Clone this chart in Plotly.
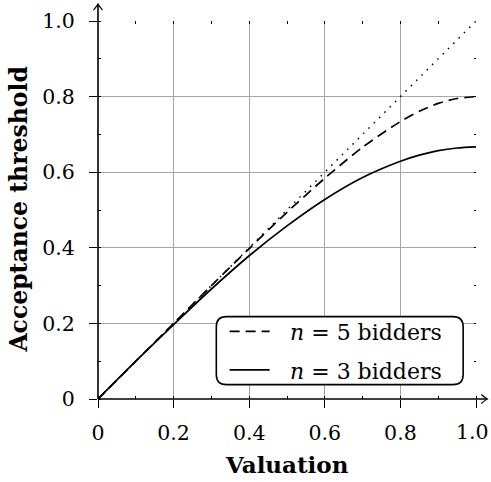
import plotly.graph_objects as go

# Acceptance threshold as a function of valuation
valuation = [0.0, 0.1, 0.2, 0.3, 0.4, 0.5, 0.6, 0.7, 0.8, 0.85, 0.9, 0.95, 1.0]
threshold_n5 = [0.0, 0.1, 0.2, 0.3, 0.398, 0.494, 0.584, 0.666, 0.734, 0.761, 0.782, 0.795, 0.8]
threshold_n3 = [0.0, 0.1, 0.197, 0.291, 0.379, 0.458, 0.528, 0.586, 0.629, 0.645, 0.657, 0.664, 0.667]
diag = [0.0, 1.0]

series_names = ["\u2002\u2009<i>n</i> = 5 bidders", "\u2002\u2009<i>n</i> = 3 bidders"]
tick_vals = [0, 0.2, 0.4, 0.6, 0.8, 1.0]
tick_text = ["0", "0.2", "0.4", "0.6", "0.8", "1.0"]
x_title = "Valuation"
y_title = "Acceptance threshold"

FONT = "DejaVu Serif"
TICK_SIZE = 20.5

fig = go.Figure()
fig.add_trace(go.Scatter(x=diag, y=diag, mode="lines", showlegend=False,
                         line=dict(color="black", width=1.5, dash="1.5px,6px")))
fig.add_trace(go.Scatter(x=valuation, y=threshold_n5, mode="lines", name=series_names[0],
                         legendgroup="a",
                         line=dict(color="black", width=1.7, dash="10px,6px",
                                   shape="spline", smoothing=0.8)))
fig.add_trace(go.Scatter(x=valuation, y=threshold_n3, mode="lines", name=series_names[1],
                         legendgroup="b",
                         line=dict(color="black", width=1.7, shape="spline", smoothing=0.8)))

grid = "#a6a6a6"
common = dict(range=[0, 1], showgrid=True, gridcolor=grid, gridwidth=1,
              zeroline=False, showline=False, automargin=False,
              ticks="outside", ticklen=8, tickwidth=1.2, tickcolor="black",
              tickvals=tick_vals,
              minor=dict(dtick=0.1, ticks="inside", ticklen=3, tickcolor="black",
                         showgrid=False),
              tickfont=dict(family=FONT, size=TICK_SIZE, color="black"))

# the last x label sits at the page edge, so it is placed as an annotation
x_labels = tick_text[:-1] + [""]

fig.update_layout(
    width=491, height=482,
    margin=dict(l=98, r=15, t=21, b=82.5),
    font=dict(family=FONT, color="black"),
    plot_bgcolor="white", paper_bgcolor="white",
    xaxis=dict(**common, ticktext=x_labels, ticklabelstandoff=7),
    yaxis=dict(**common, ticktext=tick_text, ticklabelstandoff=10),
    xaxis2=dict(overlaying="x", side="top", range=[0, 1], showgrid=False,
                zeroline=False, showticklabels=False, ticks="inside",
                ticklen=2.5, dtick=0.1, tickcolor="black", automargin=False),
    yaxis2=dict(overlaying="y", side="right", range=[0, 1], showgrid=False,
                zeroline=False, showticklabels=False, ticks="inside",
                ticklen=2.5, dtick=0.1, tickcolor="black", automargin=False),
    legend=dict(x=0.335, y=0.234, xanchor="left", yanchor="top",
                bgcolor="rgba(0,0,0,0)", borderwidth=0, itemwidth=40,
                tracegroupgap=7,
                font=dict(family=FONT, size=22, color="black")),
    showlegend=True,
)

fig.add_annotation(text=tick_text[-1], xref="x", yref="paper",
                   x=tick_vals[-1], y=0, yshift=-33, xshift=-3.5,
                   xanchor="center", yanchor="middle", showarrow=False,
                   borderpad=0, font=dict(family=FONT, size=TICK_SIZE, color="black"))

# axis titles
fig.add_annotation(text=f"<b>{x_title}</b>", xref="paper", yref="paper",
                   x=0.5, y=-0.172, xanchor="center", yanchor="middle", showarrow=False,
                   font=dict(family=FONT, size=23, color="black"))
fig.add_annotation(text=f"<b>{y_title}</b>", xref="paper", yref="paper",
                   x=-0.21, y=0.5, xanchor="center", yanchor="middle", showarrow=False,
                   textangle=-90, font=dict(family=FONT, size=23.5, color="black"))

# invisible trace so the mirrored tick axes are drawn
fig.add_trace(go.Scatter(x=[0], y=[0], xaxis="x2", yaxis="y2", mode="markers",
                         marker=dict(opacity=0), showlegend=False, hoverinfo="skip"))

# rounded legend frame
x0, x1, y0, y1 = 0.313, 0.966, 0.038, 0.218
rx, ry = 0.027, 0.027
path = (f"M {x0+rx},{y0} L {x1-rx},{y0} Q {x1},{y0} {x1},{y0+ry} "
        f"L {x1},{y1-ry} Q {x1},{y1} {x1-rx},{y1} L {x0+rx},{y1} "
        f"Q {x0},{y1} {x0},{y1-ry} L {x0},{y0+ry} Q {x0},{y0} {x0+rx},{y0} Z")
fig.add_shape(type="path", path=path, xref="paper", yref="paper",
              fillcolor="white", line=dict(color="black", width=1.6), layer="above")

# axis lines with open arrow heads
ax_len_x, ax_len_y = 1.03, 1.045
fig.add_shape(type="line", xref="paper", yref="paper", x0=0, y0=0, x1=ax_len_x, y1=0,
              line=dict(color="black", width=1.6), layer="above")
fig.add_shape(type="line", xref="paper", yref="paper", x0=0, y0=0, x1=0, y1=ax_len_y,
              line=dict(color="black", width=1.6), layer="above")
hx, hy = 0.016, 0.012
fig.add_shape(type="path", xref="paper", yref="paper",
              path=f"M {ax_len_x-hx},{hy} Q {ax_len_x-hx*0.3},{hy*0.2} {ax_len_x},0 "
                   f"Q {ax_len_x-hx*0.3},{-hy*0.2} {ax_len_x-hx},{-hy}",
              line=dict(color="black", width=1.2), layer="above")
fig.add_shape(type="path", xref="paper", yref="paper",
              path=f"M {-hy},{ax_len_y-hx} Q {-hy*0.2},{ax_len_y-hx*0.3} 0,{ax_len_y} "
                   f"Q {hy*0.2},{ax_len_y-hx*0.3} {hy},{ax_len_y-hx}",
              line=dict(color="black", width=1.2), layer="above")

fig.write_html("out.html")
